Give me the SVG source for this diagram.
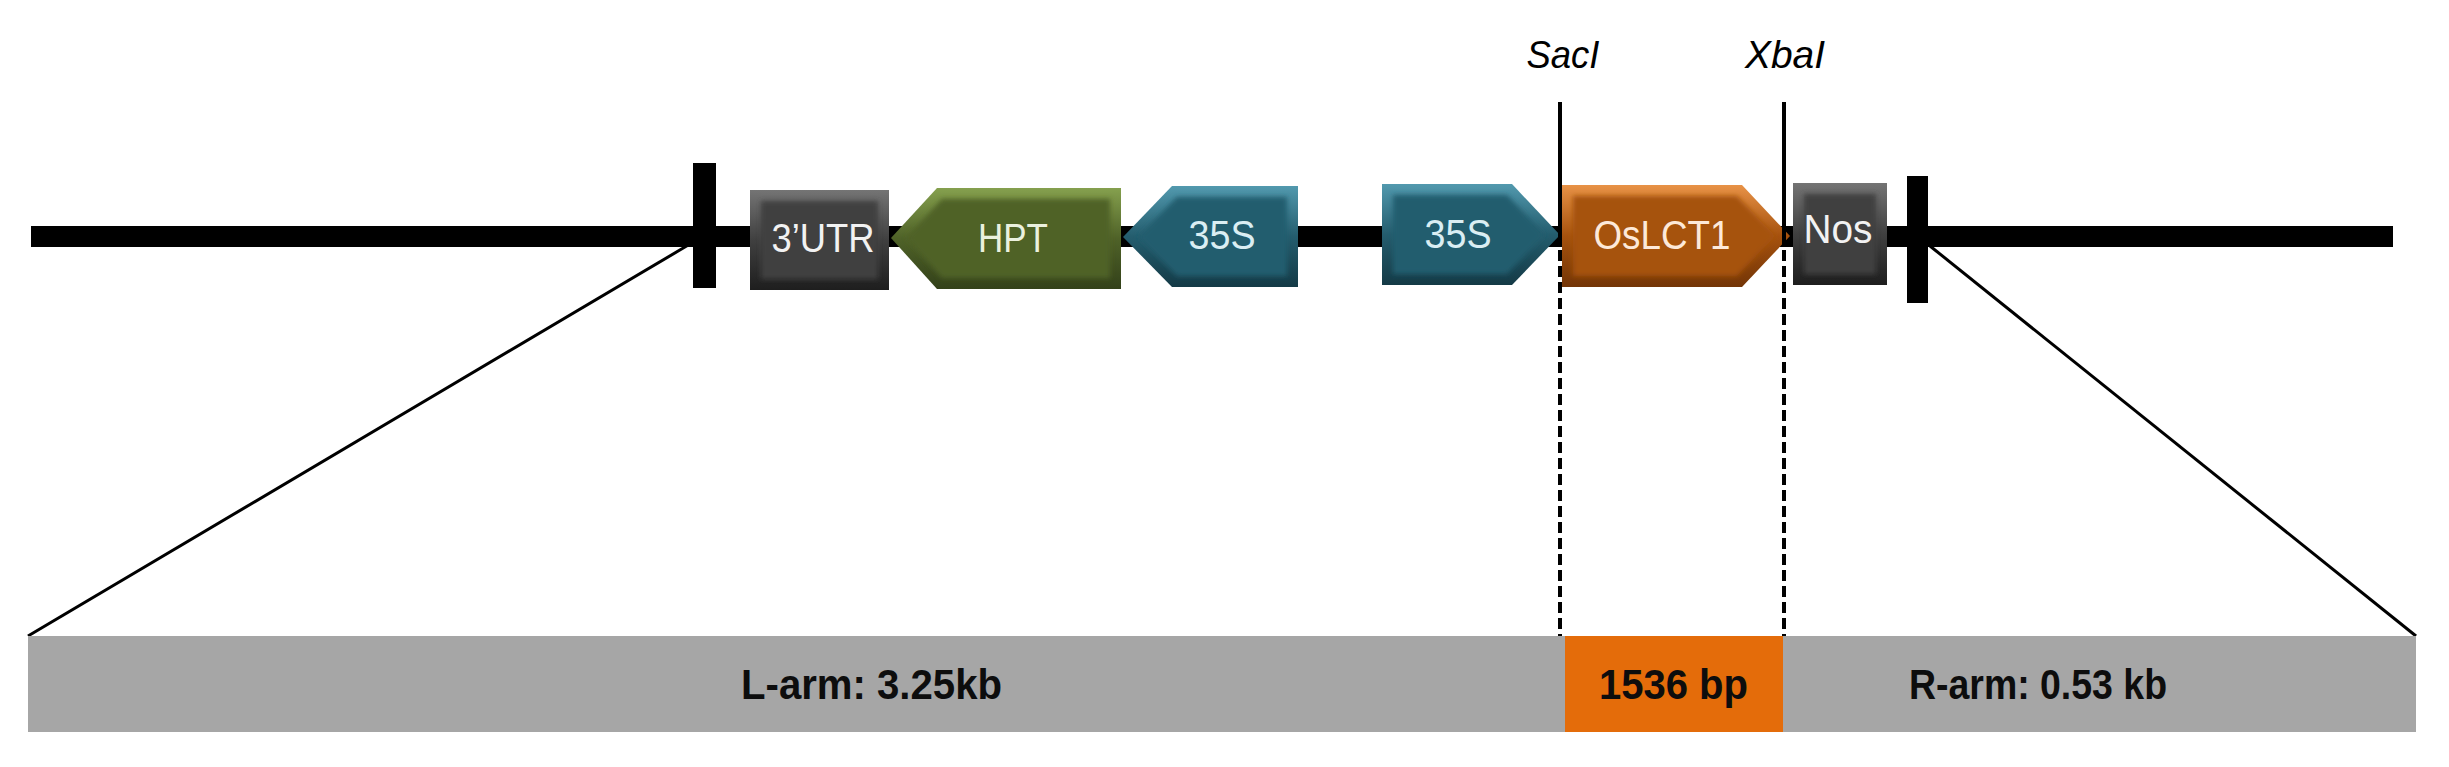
<svg xmlns="http://www.w3.org/2000/svg" width="2449" height="767" viewBox="0 0 2449 767">
  <style>
    .lbl { font-family: "Liberation Sans", "Open Sans", sans-serif; font-size: 41px; text-anchor: middle; }
    .site { font-family: "Liberation Sans", "Open Sans", sans-serif; font-size: 39px; font-style: italic; fill: #000; text-anchor: middle; }
    .bot { font-family: "Liberation Sans", "Open Sans", sans-serif; font-size: 43px; font-weight: bold; fill: #0d0d0d; }
    .solid { stroke: #000; stroke-width: 4; fill: none; }
    .dash { stroke: #000; stroke-width: 4; fill: none; stroke-dasharray: 11 5; }
    .diag { stroke: #000; stroke-width: 3; fill: none; }
  </style>
  <defs>
    <linearGradient id="gGray" x1="0" y1="0" x2="0" y2="1">
      <stop offset="0" stop-color="#747474"/><stop offset="0.5" stop-color="#404040"/><stop offset="1" stop-color="#1e1e1e"/>
    </linearGradient>
    <linearGradient id="gGreen" x1="0" y1="0" x2="0" y2="1">
      <stop offset="0" stop-color="#85a04e"/><stop offset="0.5" stop-color="#4f6228"/><stop offset="1" stop-color="#33411a"/>
    </linearGradient>
    <linearGradient id="gTeal" x1="0" y1="0" x2="0" y2="1">
      <stop offset="0" stop-color="#5299ae"/><stop offset="0.5" stop-color="#245d6e"/><stop offset="1" stop-color="#143a46"/>
    </linearGradient>
    <linearGradient id="gOrange" x1="0" y1="0" x2="0" y2="1">
      <stop offset="0" stop-color="#e89246"/><stop offset="0.5" stop-color="#a6520e"/><stop offset="1" stop-color="#733506"/>
    </linearGradient>
    <filter id="soft" x="-10%" y="-10%" width="120%" height="120%">
      <feGaussianBlur stdDeviation="2.5"/>
    </filter>
  </defs>

  <rect x="0" y="0" width="2449" height="767" fill="#ffffff"/>

  <g id="backbone">
    <rect x="31" y="226" width="2362" height="21" fill="#000"/>
    <rect x="693" y="163" width="23" height="125" fill="#000"/>
    <rect x="1907" y="176" width="21" height="127" fill="#000"/>
  </g>

  <g id="node-3utr">
    <rect x="750" y="190" width="139" height="100" fill="url(#gGray)"/>
    <rect x="761" y="201" width="117" height="78" fill="#404040" filter="url(#soft)"/>
    <text class="lbl" x="823" y="252" fill="#f2f2f2" textLength="103" lengthAdjust="spacingAndGlyphs">3’UTR</text>
  </g>

  <g id="node-hpt">
    <polygon points="891,238 937,188 1121,188 1121,289 937,289" fill="url(#gGreen)"/>
    <polygon points="906,238 942,199 1110,199 1110,278 942,278" fill="#4f6228" filter="url(#soft)"/>
    <text class="lbl" x="1013" y="252" fill="#ebf1de" textLength="70" lengthAdjust="spacingAndGlyphs">HPT</text>
  </g>

  <g id="node-35s-left">
    <polygon points="1123,237 1172,186 1298,186 1298,287 1172,287" fill="url(#gTeal)"/>
    <polygon points="1138,237 1177,197 1287,197 1287,276 1177,276" fill="#245d6e" filter="url(#soft)"/>
    <text class="lbl" x="1222" y="249" fill="#daeef3" textLength="67" lengthAdjust="spacingAndGlyphs">35S</text>
  </g>

  <g id="node-35s-right">
    <polygon points="1382,184 1512,184 1560,235 1512,285 1382,285" fill="url(#gTeal)"/>
    <polygon points="1393,195 1507,195 1545,235 1507,274 1393,274" fill="#245d6e" filter="url(#soft)"/>
    <text class="lbl" x="1458" y="248" fill="#daeef3" textLength="67" lengthAdjust="spacingAndGlyphs">35S</text>
  </g>

  <g id="node-oslct1">
    <polygon points="1562,185 1742,185 1790,236 1742,287 1562,287" fill="url(#gOrange)"/>
    <polygon points="1573,196 1737,196 1775,236 1737,276 1573,276" fill="#a6520e" filter="url(#soft)"/>
    <text class="lbl" x="1662" y="249" fill="#fde9d9" textLength="137" lengthAdjust="spacingAndGlyphs">OsLCT1</text>
  </g>

  <g id="node-nos">
    <rect x="1793" y="183" width="94" height="102" fill="url(#gGray)"/>
    <rect x="1804" y="194" width="72" height="80" fill="#404040" filter="url(#soft)"/>
    <text class="lbl" x="1838" y="243" fill="#f2f2f2" textLength="69" lengthAdjust="spacingAndGlyphs">Nos</text>
  </g>

  <g id="sites">
    <text class="site" x="1563" y="68" textLength="73" lengthAdjust="spacingAndGlyphs">SacI</text>
    <text class="site" x="1785" y="68" textLength="80" lengthAdjust="spacingAndGlyphs">XbaI</text>
  </g>

  <g id="connectors">
    <line class="solid" x1="1560" y1="102" x2="1560" y2="247"/>
    <line class="solid" x1="1784" y1="102" x2="1784" y2="247"/>
    <line class="dash" x1="1560" y1="250" x2="1560" y2="640"/>
    <line class="dash" x1="1784" y1="250" x2="1784" y2="640"/>
    <line class="diag" x1="690" y1="244" x2="28" y2="636"/>
    <line class="diag" x1="1930" y1="246" x2="2416" y2="636"/>
  </g>

  <g id="node-bar">
    <rect x="28" y="636" width="2388" height="96" fill="#a6a6a6"/>
    <rect x="1565" y="636" width="218" height="96" fill="#e46c0a"/>
    <text class="bot" x="741" y="699" textLength="261" lengthAdjust="spacingAndGlyphs">L-arm: 3.25kb</text>
    <text class="bot" x="1599" y="699" textLength="149" lengthAdjust="spacingAndGlyphs">1536 bp</text>
    <text class="bot" x="1909" y="699" textLength="258" lengthAdjust="spacingAndGlyphs">R-arm: 0.53 kb</text>
  </g>
</svg>
